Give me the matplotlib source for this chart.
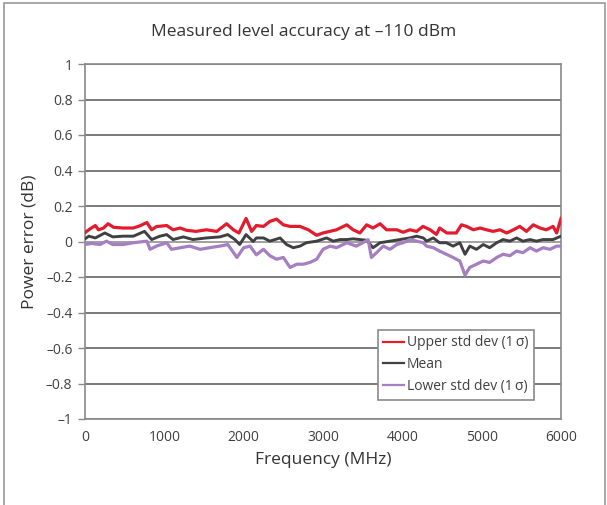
import matplotlib
matplotlib.use('Agg')
import matplotlib.pyplot as plt
from matplotlib.patches import Rectangle

plt.rcParams['font.family'] = ['Open Sans', 'DejaVu Sans']

# upper std dev (1 sigma)
freq_upper = [0, 60, 130, 170, 230, 290, 360, 480, 610, 690, 780, 840, 900, 1030, 1110,
              1200, 1280, 1400, 1530, 1660, 1785, 1870, 1940, 2030, 2100, 2160, 2250,
              2330, 2415, 2500, 2585, 2710, 2815, 2920, 3000, 3170, 3300, 3380, 3465,
              3550, 3630, 3720, 3800, 3930, 4010, 4095, 4180, 4260, 4350, 4430, 4470,
              4560, 4680, 4745, 4810, 4895, 4980, 5060, 5145, 5230, 5315, 5400, 5480,
              5565, 5650, 5735, 5815, 5900, 5945, 6000]
upper = [0.05, 0.07, 0.09, 0.066, 0.075, 0.1, 0.08, 0.076, 0.076, 0.088, 0.107, 0.066,
         0.084, 0.09, 0.066, 0.076, 0.063, 0.057, 0.066, 0.057, 0.1, 0.066, 0.048, 0.13,
         0.057, 0.09, 0.085, 0.113, 0.126, 0.094, 0.085, 0.085, 0.066, 0.035, 0.048,
         0.066, 0.094, 0.066, 0.048, 0.094, 0.076, 0.1, 0.066, 0.066, 0.052, 0.066,
         0.057, 0.085, 0.066, 0.04, 0.076, 0.048, 0.048, 0.094, 0.085, 0.066, 0.076,
         0.066, 0.057, 0.066, 0.048, 0.066, 0.085, 0.057, 0.094, 0.076, 0.066, 0.085,
         0.048, 0.13]

# mean
freq_mean = [0, 50, 130, 250, 350, 480, 610, 750, 840, 945, 1030, 1110, 1240, 1360,
             1530, 1700, 1800, 1890, 1950, 2030, 2120, 2160, 2250, 2330, 2460, 2540,
             2625, 2710, 2790, 2920, 3045, 3130, 3215, 3300, 3380, 3550, 3630, 3720,
             3845, 3970, 4095, 4180, 4265, 4305, 4390, 4470, 4555, 4640, 4725, 4790,
             4850, 4935, 5020, 5100, 5190, 5270, 5355, 5440, 5520, 5610, 5690, 5775,
             5900, 6000]
mean = [0.015, 0.03, 0.02, 0.048, 0.026, 0.03, 0.03, 0.057, 0.011, 0.03, 0.039, 0.011,
        0.026, 0.011, 0.02, 0.026, 0.039, 0.011, -0.017, 0.039, 0.0, 0.02, 0.02, 0.002,
        0.02, -0.017, -0.035, -0.026, -0.007, 0.002, 0.02, 0.002, 0.011, 0.011, 0.015,
        0.007, -0.035, -0.007, 0.002, 0.011, 0.02, 0.03, 0.02, 0.002, 0.02, -0.007,
        -0.007, -0.026, -0.007, -0.072, -0.026, -0.044, -0.017, -0.035, -0.007, 0.011,
        0.002, 0.02, 0.002, 0.011, 0.002, 0.011, 0.011, 0.03]

# lower std dev (1 sigma)
freq_lower = [0, 80, 190, 270, 350, 480, 610, 780, 820, 900, 1030, 1090, 1200, 1320,
              1450, 1570, 1700, 1800, 1915, 2000, 2080, 2160, 2250, 2330, 2415, 2500,
              2585, 2670, 2750, 2835, 2920, 3000, 3090, 3170, 3300, 3420, 3500, 3570,
              3610, 3675, 3760, 3845, 3930, 4010, 4095, 4180, 4265, 4305, 4390, 4470,
              4555, 4640, 4725, 4790, 4850, 4935, 5020, 5100, 5190, 5270, 5355, 5440,
              5520, 5610, 5690, 5775, 5860, 5945, 6000]
lower = [-0.017, -0.011, -0.017, 0.002, -0.017, -0.017, -0.007, 0.002, -0.044, -0.026,
         -0.007, -0.044, -0.035, -0.026, -0.044, -0.035, -0.026, -0.017, -0.09, -0.035,
         -0.026, -0.075, -0.044, -0.08, -0.1, -0.09, -0.146, -0.128, -0.128, -0.118,
         -0.1, -0.044, -0.026, -0.035, -0.007, -0.026, -0.007, 0.01, -0.09, -0.063,
         -0.026, -0.044, -0.017, -0.007, 0.011, 0.002, -0.007, -0.026, -0.035, -0.054,
         -0.072, -0.09, -0.11, -0.19, -0.146, -0.128, -0.11, -0.118, -0.09, -0.072,
         -0.08, -0.054, -0.063, -0.035, -0.054, -0.035, -0.044, -0.026, -0.026]

yticks = [-1, -0.8, -0.6, -0.4, -0.2, 0, 0.2, 0.4, 0.6, 0.8, 1]
ytick_labels = ['\u20131', '\u20130.8', '\u20130.6', '\u20130.4', '\u20130.2', '0',
                '0.2', '0.4', '0.6', '0.8', '1']
xticks = [0, 1000, 2000, 3000, 4000, 5000, 6000]

fig = plt.figure(figsize=(6.07, 5.05), dpi=100)
ax = fig.add_axes([85 / 607, 86 / 505, 476 / 607, 355 / 505])

# outer frame of the figure
fig.patches.append(Rectangle((4 / 607, -0.01), 601 / 607, 1 - 3 / 505 + 0.01,
                             transform=fig.transFigure, fill=False,
                             edgecolor='#9a9a9a', lw=1.2))

for y in yticks:
    ax.axhline(y, color='#a0a0a0' if y == 0 else '#7a7a7a', lw=1.4, zorder=1)

ax.plot(freq_upper, upper, color='#e31b2d', lw=2.3, label='Upper std dev (1\u2009\u03c3)', zorder=3)
ax.plot(freq_mean, mean, color='#404040', lw=2.1, label='Mean', zorder=3)
ax.plot(freq_lower, lower, color='#a57fc2', lw=2.3, label='Lower std dev (1\u2009\u03c3)', zorder=3)

ax.set_xlim(0, 6000)
ax.set_ylim(-1, 1)
ax.set_xticks(xticks)
ax.set_yticks(yticks)
ax.set_yticklabels(ytick_labels)
ax.tick_params(axis='x', length=0, pad=8, labelsize=10, labelcolor='#404040')
ax.tick_params(axis='y', length=5, width=1, color='#8a8a8a', pad=4,
               labelsize=10, labelcolor='#404040')
for s in ax.spines.values():
    s.set_color('#8a8a8a')
    s.set_linewidth(1.2)

ax.set_xlabel('Frequency (MHz)', fontsize=12.5, color='#333333', labelpad=5)
ax.set_ylabel('Power error (dB)', fontsize=12.5, color='#333333', labelpad=6)
fig.text(0.5, 1 - 32 / 505, 'Measured level accuracy at \u2013110 dBm',
         ha='center', va='center', fontsize=12.5, color='#333333')

leg = ax.legend(loc='lower right', bbox_to_anchor=(0.943, 0.054), borderaxespad=0,
                fontsize=10, handlelength=1.5, handletextpad=0.2, labelspacing=0.5,
                fancybox=False, framealpha=1, edgecolor='#8a8a8a', borderpad=0.4)
leg.get_frame().set_linewidth(1.2)
for line in leg.get_lines():
    line.set_linewidth(1.6)
for t in leg.get_texts():
    t.set_color('#404040')

fig.savefig('out.png', dpi=100)
